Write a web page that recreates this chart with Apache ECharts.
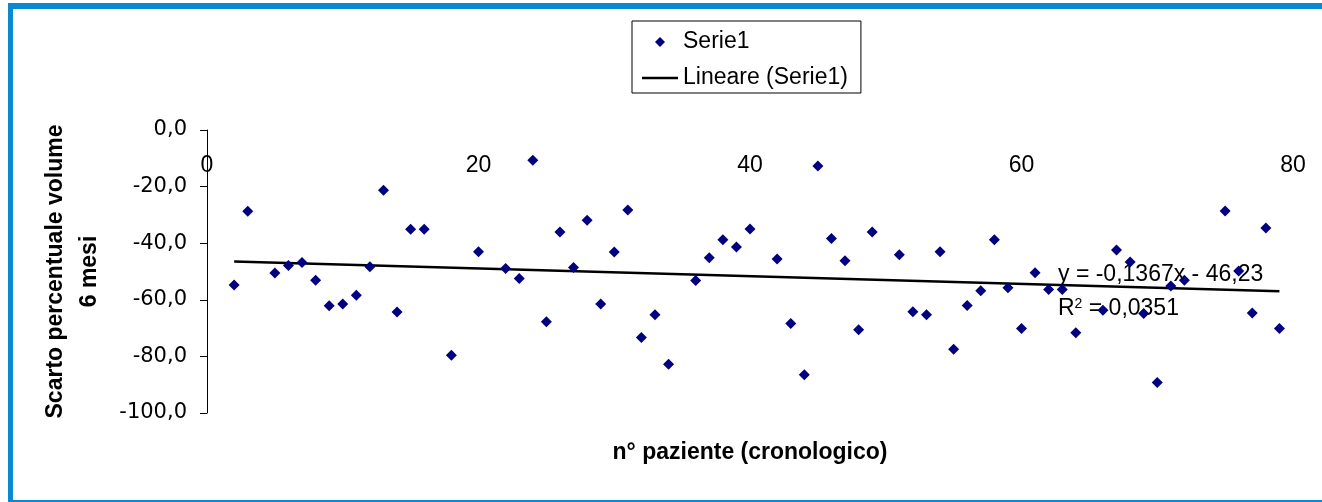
<!DOCTYPE html>
<html>
<head>
<meta charset="utf-8">
<title>Scarto percentuale volume 6 mesi</title>
<script src="https://cdn.jsdelivr.net/npm/echarts@6/dist/echarts.min.js"></script>
<style>
  html, body { margin: 0; padding: 0; background: #fff; }
  #e_chart_1 { width: 1322px; height: 502px; }
</style>
</head>
<body>
<div id="e_chart_1"></div>
<script>
// n° paziente (x) and scarto percentuale (y)
var pazienti = [2, 3, 5, 6, 7, 8, 9, 10, 11, 12, 13, 14, 15, 16, 18, 20, 22, 23, 24, 25,
  26, 27, 28, 29, 30, 31, 32, 33, 34, 36, 37, 38, 39, 40, 42, 43, 44, 45, 46, 47,
  48, 49, 51, 52, 53, 54, 55, 56, 57, 58, 59, 60, 61, 62, 63, 64, 66, 67, 68, 69,
  70, 71, 72, 75, 76, 77, 78, 79];
var scarto = [-54.8, -28.7, -50.5, -47.9, -46.8, -53.1, -62.1, -61.5, -58.4, -48.3,
  -21.3, -64.3, -35.1, -35.1, -79.6, -43.0, -48.9, -52.5, -10.7, -67.8,
  -36.0, -48.6, -31.9, -61.5, -43.1, -28.3, -73.3, -65.3, -82.8, -53.2,
  -45.1, -38.8, -41.3, -35.0, -45.6, -68.4, -86.5, -12.7, -38.3, -46.2,
  -70.6, -36.0, -44.1, -64.2, -65.3, -43.0, -77.5, -62.0, -56.8, -38.8,
  -55.7, -70.1, -50.4, -56.4, -56.4, -71.6, -63.7, -42.4, -46.6, -64.8,
  -89.2, -55.1, -53.1, -28.6, -49.8, -64.7, -34.6, -70.1];

// linea di tendenza (Lineare), end points
var trendX = [2, 79];
var trendY = [-46.5, -57.0];

var xTicks = [0, 20, 40, 60, 80];
var yTicks = [0, -20, -40, -60, -80, -100];

var equazione = 'y = -0,1367x - 46,23';
var erre2 = '0,0351';

var font = "'Liberation Sans', Arial, sans-serif";
var blu = '#0a88d0';

var punti = [];
for (var i = 0; i < pazienti.length; i++) {
  punti.push([pazienti[i], scarto[i]]);
}
var tendenza = [];
for (var j = 0; j < trendX.length; j++) {
  tendenza.push([trendX[j], trendY[j]]);
}

var eChart_1 = echarts.init(document.getElementById('e_chart_1'));

var option1 = {
  animation: false,
  backgroundColor: '#fff',
  textStyle: { fontFamily: font, color: '#000' },
  grid: { left: 207, top: 130, right: 29, bottom: 89 },
  legend: {
    orient: 'vertical',
    left: 632,
    top: 21,
    padding: [8, 13, 2, 10],
    borderColor: '#000',
    borderWidth: 1,
    itemWidth: 36,
    itemHeight: 10,
    itemGap: 10,
    textStyle: { fontFamily: font, fontSize: 23, lineHeight: 26, color: '#000' },
    data: [
      // rombo piccolo e linea semplice, come in Excel
      { name: 'Serie1', icon: 'path://M5,0L10,5L5,10L0,5Z', symbolKeepAspect: true, itemStyle: { opacity: 1 } },
      { name: 'Lineare (Serie1)', icon: 'path://M0,0H36V2.5H0Z', symbolKeepAspect: true }
    ]
  },
  xAxis: [{
    type: 'value',
    position: 'top',
    min: xTicks[0],
    max: xTicks[xTicks.length - 1],
    interval: 20,
    axisLine: { show: false },
    axisTick: { show: false },
    splitLine: { show: false },
    axisLabel: {
      inside: true,
      margin: 24,
      fontSize: 23,
      fontFamily: font,
      color: '#000'
    }
  }, {
    type: 'value',
    position: 'bottom',
    min: xTicks[0],
    max: xTicks[xTicks.length - 1],
    interval: 20,
    axisLine: { show: false },
    axisTick: { show: false },
    splitLine: { show: false },
    axisLabel: { show: false },
    name: 'n° paziente (cronologico)',
    nameLocation: 'middle',
    nameGap: 28,
    nameTextStyle: { fontFamily: font, fontSize: 23, fontWeight: 'bold', color: '#000' }
  }],
  yAxis: {
    type: 'value',
    min: yTicks[yTicks.length - 1],
    max: yTicks[0],
    interval: 20,
    axisLine: { show: true, onZero: false, lineStyle: { color: '#000', width: 1 } },
    axisTick: { show: true, inside: false, length: 7, lineStyle: { color: '#000' } },
    splitLine: { show: false },
    axisLabel: {
      margin: 20,
      fontSize: 21,
      fontFamily: "'DejaVu Sans', sans-serif",
      color: '#000',
      formatter: function (v) { return v.toFixed(1).replace('.', ','); }
    },
    name: 'Scarto percentuale volume\n6 mesi',
    nameLocation: 'middle',
    nameRotate: 90,
    nameGap: 100,
    nameTextStyle: { fontFamily: font, fontSize: 23, fontWeight: 'bold', lineHeight: 34, color: '#000' }
  },
  series: [{
    name: 'Serie1',
    type: 'scatter',
    xAxisIndex: 0,
    symbol: 'diamond',
    symbolSize: 11,
    itemStyle: { color: '#000080', opacity: 1 },
    data: punti,
    z: 3
  }, {
    name: 'Lineare (Serie1)',
    type: 'line',
    xAxisIndex: 0,
    showSymbol: false,
    symbol: 'none',
    lineStyle: { color: '#000', width: 2.5 },
    itemStyle: { color: '#000' },
    data: tendenza,
    z: 2
  }],
  graphic: [
    // cornice blu
    { type: 'rect', shape: { x: 8, y: 3, width: 1314, height: 6 }, style: { fill: blu }, silent: true },
    { type: 'rect', shape: { x: 8, y: 3, width: 5, height: 499 }, style: { fill: blu }, silent: true },
    { type: 'rect', shape: { x: 8, y: 500, width: 1314, height: 2 }, style: { fill: blu }, silent: true },
    // equazione della retta
    {
      type: 'text', x: 1058, y: 275, z: 1,
      style: { text: equazione, font: '23px ' + font, fill: '#000', verticalAlign: 'middle' }
    },
    {
      type: 'text', x: 1058, y: 309, z: 1,
      style: {
        text: 'R{sup|2} = ' + erre2,
        font: '23px ' + font,
        fill: '#000',
        verticalAlign: 'middle',
        rich: { sup: { fontSize: 14, fontFamily: font, verticalAlign: 'top', padding: [0, 0, 10, 0] } }
      }
    }
  ]
};

eChart_1.setOption(option1);
</script>
</body>
</html>
